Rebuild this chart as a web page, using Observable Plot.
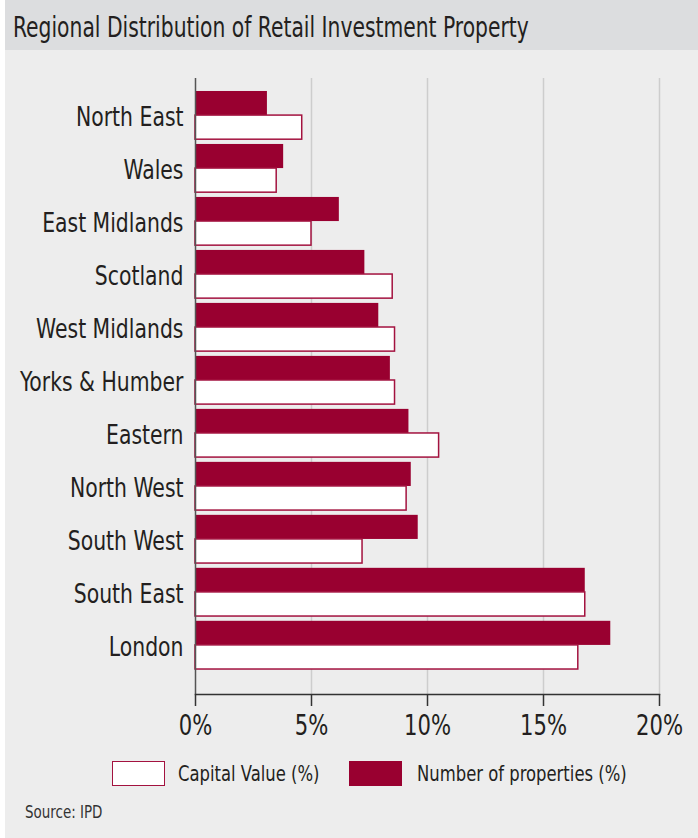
<!DOCTYPE html>
<html>
<head>
<meta charset="utf-8">
<script src="https://cdn.jsdelivr.net/npm/d3@7"></script>
<script src="https://cdn.jsdelivr.net/npm/@observablehq/plot@0.6"></script>
<style>
  html, body { margin: 0; padding: 0; background: #ffffff; }
  body { width: 698px; height: 838px; position: relative; overflow: hidden;
         font-family: "DejaVu Sans Condensed", "DejaVu Sans", sans-serif; color: #231f20; }
  #panel { position: absolute; left: 5px; top: 0; width: 693px; height: 838px; background: #ededed; }
  #titlebar { position: absolute; left: 5px; top: 0; width: 693px; height: 50px; background: #dcdddf; }
  #title { position: absolute; left: 13px; top: 3px; height: 50px; line-height: 50px; font-size: 28px;
           white-space: nowrap; transform: scaleX(0.806); transform-origin: 0 50%; }
  #chart { position: absolute; left: 0; top: 50px; }
  #legend { position: absolute; top: 761px; left: 0; width: 698px; height: 25px; }
  .sw { position: absolute; top: 0; width: 53px; height: 25px; box-sizing: border-box; }
  .lt { position: absolute; top: 0; height: 25px; line-height: 25px; font-size: 22px; white-space: nowrap;
        transform: scaleX(0.83); transform-origin: 0 50%; }
  #source { position: absolute; left: 25px; top: 802px; font-size: 17.5px; color: #333; white-space: nowrap;
            transform: scaleX(0.855); transform-origin: 0 50%; }
</style>
</head>
<body>
<div id="panel"></div>
<div id="titlebar"></div>
<div id="title">Regional Distribution of Retail Investment Property</div>
<div id="chart"></div>
<div id="legend"></div>
<div id="source">Source: IPD</div>
<script>
const regions = ["North East","Wales","East Midlands","Scotland","West Midlands","Yorks & Humber","Eastern","North West","South West","South East","London"];
const numberOfProperties = [3.1, 3.8, 6.2, 7.3, 7.9, 8.4, 9.2, 9.3, 9.6, 16.8, 17.9];
const capitalValue = [4.6, 3.5, 5.0, 8.5, 8.6, 8.6, 10.5, 9.1, 7.2, 16.8, 16.5];
const xTicks = [0, 5, 10, 15, 20];
const seriesNames = ["Capital Value (%)", "Number of properties (%)"];

const dark = "#990030";
const outline = "#a3123f";

const rows = regions.map((r, i) => ({region: r, number: numberOfProperties[i], capital: capitalValue[i]}));

const half = 24.1;

const chart = Plot.plot({
  width: 698,
  height: 700,
  marginLeft: 195,
  marginRight: 39,
  marginTop: 28,
  marginBottom: 56,
  style: {background: "transparent", fontFamily: '"DejaVu Sans Condensed", "DejaVu Sans", sans-serif', color: "#231f20"},
  x: {domain: [0, 20]},
  y: {domain: regions, paddingInner: 0.09, paddingOuter: 0.245, insetBottom: 12, round: false},
  marks: [
    Plot.ruleX(xTicks.slice(1), {stroke: "#cdcdcd", strokeWidth: 1.5}),
    Plot.barX(rows, {y: "region", x: "number", fill: dark, insetBottom: half, insetTop: 0}),
    Plot.barX(rows, {y: "region", x: "capital", fill: "#ffffff", stroke: outline, strokeWidth: 1.5, insetTop: half, insetBottom: 0}),
    Plot.ruleX([0], {stroke: "#555555", strokeWidth: 1.5}),
    Plot.frame({anchor: "bottom", stroke: "#333333", strokeWidth: 1.5}),
    Plot.axisX({anchor: "bottom", ticks: xTicks, tickFormat: d => `${d}%`, tickSize: 12, tickPadding: 9, fontSize: 28, label: null, stroke: "#333333", fill: "#231f20", strokeWidth: 1.5}),
    Plot.axisY({anchor: "left", tickSize: 0, tickPadding: 12, dy: 2, fontSize: 27, label: null, fill: "#231f20"})
  ]
});
document.getElementById("chart").appendChild(chart);

// condense SVG label glyphs horizontally (reference uses a condensed face)
chart.querySelectorAll("text").forEach(el => {
  const k = 0.84;
  const tr = el.getAttribute("transform");
  if (tr && /translate/.test(tr)) {
    el.setAttribute("transform", tr + ` scale(${k},1)`);
  } else {
    const L = el.getComputedTextLength();
    el.setAttribute("textLength", L * k);
    el.setAttribute("lengthAdjust", "spacingAndGlyphs");
  }
});

const legend = document.getElementById("legend");
const items = [
  {name: seriesNames[0], fill: "#ffffff", border: outline, box: 112, text: 178},
  {name: seriesNames[1], fill: dark, border: dark, box: 349, text: 417}
];
for (const it of items) {
  const sw = document.createElement("div");
  sw.className = "sw";
  sw.style.left = it.box + "px";
  sw.style.background = it.fill;
  sw.style.border = `1.5px solid ${it.border}`;
  legend.appendChild(sw);
  const t = document.createElement("div");
  t.className = "lt";
  t.style.left = it.text + "px";
  t.textContent = it.name;
  legend.appendChild(t);
}
</script>
</body>
</html>
